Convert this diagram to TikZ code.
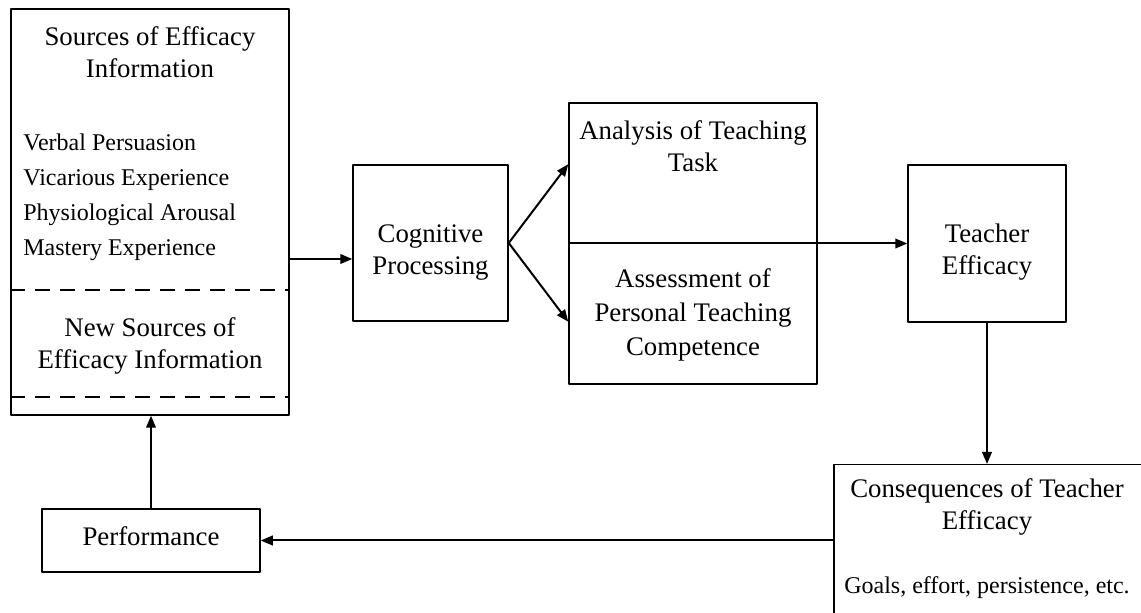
\documentclass[tikz,border=0pt]{standalone}
\usepackage{fontspec}
\setmainfont{Liberation Serif}
\usetikzlibrary{arrows.meta,positioning}
\begin{document}
\begin{tikzpicture}[x=0.5pt,y=-0.5pt,>={Triangle[length=6pt,width=4.8pt]},line join=round,
	box/.style={draw,line width=0.75pt,inner sep=0pt},
	txt/.style={align=center,font=\fontsize{13.4}{16}\selectfont,inner sep=0pt},
	lst/.style={align=left,font=\fontsize{12}{17.5}\selectfont,inner sep=0pt},
	link/.style={->,line width=1pt},
	sep/.style={dash pattern=on 7.5pt off 5pt,line width=1.2pt}]
	\useasboundingbox (0,0) rectangle (1141,613);
	\clip (0,0) rectangle (1141,613);
	% boxes
	\node[box,minimum width=139pt,minimum height=203pt] (src) at (150,212) {};
	\node[box,minimum width=77.5pt,minimum height=78pt] (cog) at (430.5,243) {};
	\node[box,minimum width=124pt,minimum height=140.5pt] (mid) at (693,243.5) {};
	\node[box,minimum width=79pt,minimum height=78.5pt] (teach) at (987,243.5) {};
	\node[box,minimum width=109pt,minimum height=31.5pt] (perf) at (151,540.5) {};
	\node[box,anchor=north west,minimum width=170pt,minimum height=90pt] (cons) at (833,464) {};
	% texts
	\node[txt] (srcT) at (150,52) {Sources of Efficacy\\Information};
	\node[lst,anchor=west] (srcL) at (23,197) {Verbal Persuasion\\Vicarious Experience\\Physiological Arousal\\Mastery Experience};
	\node[txt] (newT) at (150,346) {New Sources of\\Efficacy Information};
	\node[txt] (cogT) at (430.5,253) {Cognitive\\Processing};
	\node[txt] (anaT) at (693,146) {Analysis of Teaching\\Task};
	\node[txt,font=\fontsize{13.4}{17}\selectfont] (assT) at (693,315) {Assessment of\\Personal Teaching\\Competence};
	\node[txt] (teachT) at (987,252) {Teacher\\Efficacy};
	\node[txt] (perfT) at (151,536) {Performance};
	\node[txt] (consT) at (987,507) {Consequences of Teacher\\Efficacy};
	\node[lst] (goalT) at (987,588) {Goals, effort, persistence, etc.};
	% dashed separators
	\draw[sep] (src.west |- 0,290) -- (src.east |- 0,290);
	\draw[sep] (src.west |- 0,397) -- (src.east |- 0,397);
	% connectors
	\coordinate (s1) at (src.east |- 0,259);
	\draw[link] (s1) -- (s1 -| cog.west);
	\draw[link] (cog.east) -- (mid.west |- cog.north);
	\draw[link] (cog.east) -- (mid.west |- cog.south);
	\draw[link] (mid.west |- teach.west) -- (teach.west);
	\draw[link] (teach.south) -- (teach.south |- cons.north);
	\draw[link] (cons.west |- perf.east) -- (perf.east);
	\draw[link] (perf.north) -- (perf.north |- src.south);
\end{tikzpicture}
\end{document}
